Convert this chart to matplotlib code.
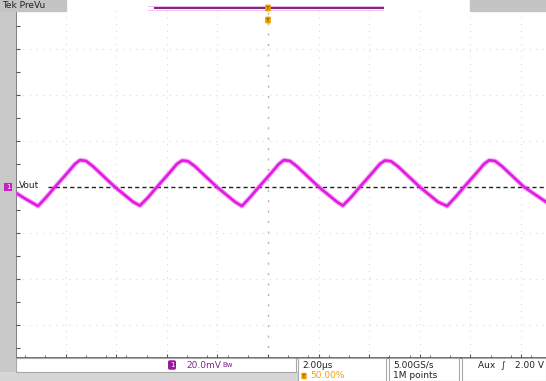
import numpy as np
import matplotlib.pyplot as plt
from matplotlib.patches import Rectangle
from matplotlib.lines import Line2D

# =============================================================================
# Waveform: time in us, Vout ripple in mV (AC, 20 mV/div)
# =============================================================================
t_us = [-9.96, -9.61,
        -9.09, -8.77, -8.42, -7.90, -7.63, -7.43, -7.19, -6.92, -6.05, -5.33,
        -5.06, -4.74, -4.39, -3.87, -3.60, -3.40, -3.16, -2.89, -2.02, -1.30,
        -1.03, -0.71, -0.36, 0.16, 0.43, 0.63, 0.87, 1.14, 2.01, 2.73,
        2.96, 3.28, 3.63, 4.15, 4.42, 4.62, 4.86, 5.13, 6.00, 6.72,
        7.08, 7.40, 7.75, 8.27, 8.54, 8.74, 8.98, 9.25, 10.12, 10.99]
v_mv = [-2.6, -5.0,
        -8.3, -4.5, 0.0, 6.5, 10.0, 11.7, 11.3, 9.0, 0.0, -6.5,
        -8.1, -4.5, 0.0, 6.5, 10.0, 11.5, 11.2, 9.0, 0.0, -6.5,
        -8.3, -4.5, 0.0, 6.5, 10.0, 11.7, 11.3, 9.0, 0.0, -6.5,
        -8.1, -4.5, 0.0, 6.5, 10.0, 11.5, 11.2, 9.0, 0.0, -6.5,
        -8.3, -4.5, 0.0, 6.5, 10.0, 11.6, 11.3, 9.0, 0.0, -6.5]

# scope settings / readouts
mv_per_div = 20.0
us_per_div = 2.0
ch1_label = 'Vout'
ch1_scale = '20.0mV'
timebase = '2.00\u00b5s'
trig_pos = '50.00%'
sample_rate = '5.00GS/s'
record_len = '1M points'
trig_src = 'Aux  \u222b'
trig_level = '2.00 V'

# =============================================================================
# Layout helpers (pixel -> figure fraction)
# =============================================================================
W, H = 546, 381
def fx(px):
    return px / W
def fy(py):
    return 1 - py / H

x0_px, x1_px, y0_px, y1_px = 16, 546, 8, 358   # graticule window
cx_px, cy_px = 268, 187                        # screen centre
div_w, div_h = 50.6, 46.0                      # pixels per division

magenta = '#e21de2'
orange = '#f0a400'
grey = '#c9c9c9'

fig = plt.figure(figsize=(W / 100, H / 100), dpi=100)
fig.patch.set_facecolor('white')

# frame pieces
for (xa, ya, w, h, c) in [(0, 0, 15, H, grey), (0, 0, 66, 11, '#c4c4c4'),
                          (470, 0, 76, 11, '#c4c4c4'), (0, 372, 298, 9, '#d6d6d6')]:
    fig.patches.append(Rectangle((fx(xa), fy(ya + h)), w / W, h / H,
                                 transform=fig.transFigure, color=c, zorder=0))

ax = fig.add_axes([fx(x0_px), fy(y1_px), (x1_px - x0_px) / W, (y1_px - y0_px) / H])
ax.set_xlim((x0_px - cx_px) / div_w * us_per_div, (x1_px - cx_px) / div_w * us_per_div)
ax.set_ylim((cy_px - y1_px) / div_h * mv_per_div, (cy_px - y0_px) / div_h * mv_per_div)
ax.set_facecolor('white')

# graticule
for k in range(-4, 6):
    if k != 0:
        ax.axvline(k * us_per_div, color='#dadada', lw=0.8, ls=(0, (1, 5)), zorder=1)
for k in range(-3, 4):
    if k != 0:
        ax.axhline(k * mv_per_div, color='#dadada', lw=0.8, ls=(0, (1, 5)), zorder=1)
ax.axvline(0, color='#b4b4b4', lw=1.0, ls=(0, (1.5, 6)), zorder=1)

# channel reference level
ax.axhline(0, xmin=(48 - x0_px) / (x1_px - x0_px), color='#222222', lw=1.0,
           ls=(0, (3, 2.2)), zorder=2)

# trace
ax.plot(t_us, v_mv, color=magenta, lw=3.6, alpha=0.3, solid_joinstyle='round', zorder=3)
ax.plot(t_us, v_mv, color=magenta, lw=2.0, solid_joinstyle='round', zorder=4)

for s in ['top', 'right']:
    ax.spines[s].set_visible(False)
for s in ['left', 'bottom']:
    ax.spines[s].set_color('#555555')
    ax.spines[s].set_linewidth(1.2)
ax.set_yticks(np.arange(-70, 80, 10))
ax.set_xticks(np.arange(-8, 11, 2))
ax.set_xticks(np.arange(-9.6, 11, 0.8), minor=True)
ax.tick_params(which='both', direction='in', labelleft=False, labelbottom=False,
               color='#555555')
ax.tick_params(which='major', length=3)
ax.tick_params(which='minor', length=2)

# channel marker + label
fig.text(fx(8), fy(187), '1', fontsize=5, color='white', ha='center', va='center',
         bbox=dict(boxstyle='square,pad=0.2', fc='#c81ec8', ec='none'))
fig.text(fx(19), fy(186), ch1_label, fontsize=6.5, ha='left', va='center', color='#222222')

# header
fig.text(fx(2), fy(5), 'Tek PreVu', fontsize=6.5, ha='left', va='center', color='#222222')
fig.add_artist(Line2D([fx(148), fx(383)], [fy(6), fy(6)], color='#f0b8f0', lw=0.6))
fig.add_artist(Line2D([fx(148), fx(383)], [fy(10), fy(10)], color='#f0b8f0', lw=0.6))
fig.add_artist(Line2D([fx(155), fx(383)], [fy(8), fy(8)], color='#7d2a7d', lw=1.5))
fig.text(fx(268), fy(8), 'T', fontsize=4.5, color='#6a4000', ha='center', va='center',
         bbox=dict(boxstyle='round,pad=0.15', fc=orange, ec='none'))
fig.text(fx(268), fy(20), 'T', fontsize=4.5, color='#6a4000', ha='center', va='center',
         bbox=dict(boxstyle='round,pad=0.15', fc=orange, ec='none'))

# bottom readouts
for (xa, w) in [(16, 280), (298, 88), (389, 70), (462, 84)]:
    fig.patches.append(Rectangle((fx(xa), fy(381 if xa > 20 else 372)), w / W,
                                 (23 if xa > 20 else 14) / H, transform=fig.transFigure,
                                 fc='white', ec='#a8a8a8', lw=0.8, zorder=1))
fig.text(fx(172), fy(365), '1', fontsize=5, color='white', ha='center', va='center',
         bbox=dict(boxstyle='round,pad=0.25', fc='#9a1a9a', ec='none'))
fig.text(fx(186), fy(365), ch1_scale, fontsize=6.5, color='#7a2a8a', ha='left', va='center')
fig.text(fx(222), fy(365), 'Bw', fontsize=5, color='#7a2a8a', ha='left', va='center')
fig.text(fx(302), fy(365), timebase, fontsize=6.5, ha='left', va='center', color='#222222')
fig.text(fx(304), fy(376), 'T', fontsize=4.5, color='#6a4000', ha='center', va='center',
         bbox=dict(boxstyle='round,pad=0.12', fc=orange, ec='none'))
fig.text(fx(310), fy(376), trig_pos, fontsize=6.5, ha='left', va='center', color=orange)
fig.text(fx(393), fy(365), sample_rate, fontsize=6.5, ha='left', va='center', color='#222222')
fig.text(fx(393), fy(376), record_len, fontsize=6.5, ha='left', va='center', color='#222222')
fig.text(fx(478), fy(365), trig_src, fontsize=6.5, ha='left', va='center', color='#222222')
fig.text(fx(515), fy(365), trig_level, fontsize=6.5, ha='left', va='center', color='#222222')

fig.savefig('out.png', dpi=100)
